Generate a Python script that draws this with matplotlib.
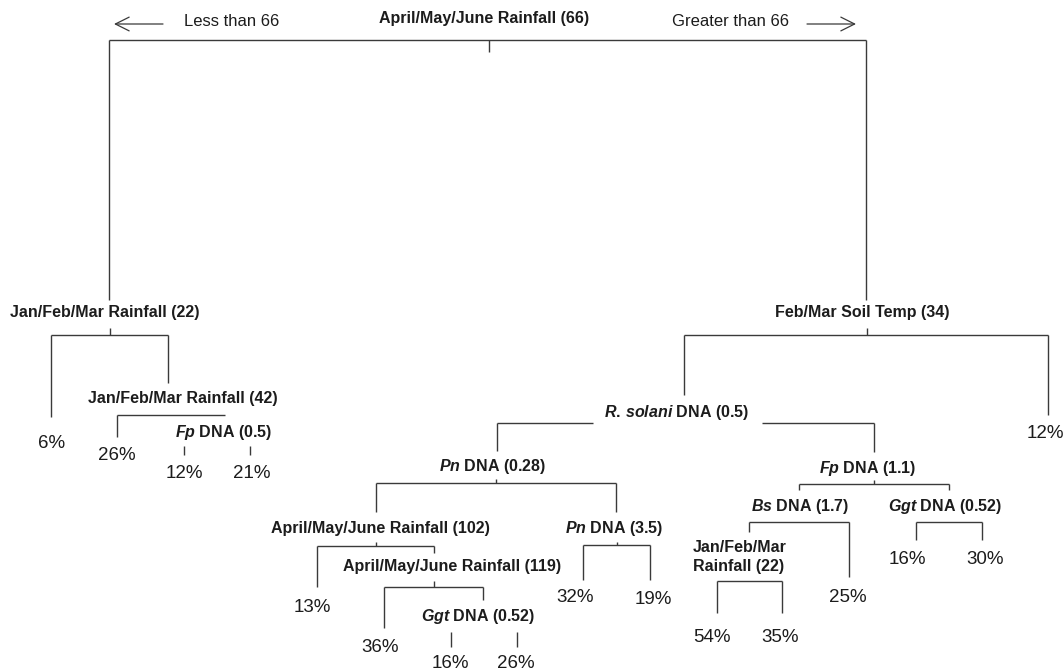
import matplotlib.pyplot as plt

plt.rcParams["font.family"] = "Liberation Sans"
plt.rcParams["mathtext.fontset"] = "custom"
plt.rcParams["mathtext.it"] = "Liberation Sans:italic:bold"
plt.rcParams["mathtext.rm"] = "Liberation Sans:bold"
plt.rcParams["mathtext.bf"] = "Liberation Sans:bold"

LINE = "#3a3a3a"
INK = "#1c1c1c"

# internal nodes of the regression tree: splitting variable and threshold
split_vars = [
    "April/May/June Rainfall", "Jan/Feb/Mar Rainfall", "Jan/Feb/Mar Rainfall",
    r"$\mathit{Fp}$ DNA", "Feb/Mar Soil Temp", r"$\mathit{R.\,solani}$ DNA",
    r"$\mathit{Pn}$ DNA", "April/May/June Rainfall", "April/May/June Rainfall",
    r"$\mathit{Ggt}$ DNA", r"$\mathit{Pn}$ DNA", r"$\mathit{Fp}$ DNA",
    r"$\mathit{Bs}$ DNA", "Jan/Feb/Mar\nRainfall", r"$\mathit{Ggt}$ DNA",
]
split_cuts = ["66", "22", "42", "0.5", "34", "0.5", "0.28", "102", "119",
              "0.52", "3.5", "1.1", "1.7", "22", "0.52"]

# terminal nodes, left to right: mean value (%)
leaf_pct = [6, 26, 12, 21, 13, 36, 16, 26, 32, 19, 54, 35, 25, 16, 30, 12]

# direction of the first split
branch_text = ["Less than 66", "Greater than 66"]

# ---- layout (pixels, origin top-left) ----
# label x, label y, horizontal alignment
split_pos = [
    (484, 18, "center"), (105, 313, "center"), (183, 399, "center"),
    (224, 432, "center"), (862, 313, "center"), (677, 412, "center"),
    (492, 467, "center"), (380, 528, "center"), (452, 567, "center"),
    (478, 617, "center"), (614, 529, "center"), (868, 468, "center"),
    (800, 507, "center"), (693, 557, "left"), (945, 507, "center"),
]
# tick (x, y0, y1) or None
split_tick = [
    (489, 40, 52), (110, 328, 335), None, None, (867, 328, 335), None,
    (496, 479, 483), (376, 542, 546), (434, 581, 587), None,
    (617, 542, 545), (874, 480, 484), None, None, None,
]
# bar y, left x, right x, left end y, right end y, bar drawn
split_bar = [
    (40, 109, 866, 300, 300, True),
    (335, 51, 168, 417, 383, True),
    (415, 117, 225, 437, 415, True),
    (446, 184, 250, 455, 455, False),
    (335, 684, 1048, 395, 415, True),
    (423, 497, 874, 451, 452, True),
    (483, 376, 616, 512, 512, True),
    (546, 317, 434, 587, 553, True),
    (587, 384, 483, 628, 600, True),
    (632, 451, 517, 647, 647, False),
    (545, 583, 650, 580, 580, True),
    (484, 799, 949, 490, 490, True),
    (522, 749, 849, 532, 577, True),
    (581, 717, 782, 613, 613, True),
    (522, 916, 982, 540, 540, True),
]
# gap left in a bar behind its label
bar_gap = {5: (593, 762)}

leaf_pos = [
    (52, 443), (117, 456), (184, 473), (252, 473), (312, 608), (380, 648),
    (450, 663), (516, 663), (575, 598), (653, 599), (712, 638), (780, 638),
    (848, 598), (907, 559), (985, 559), (1045, 433),
]

W, H = 1063, 672
fig = plt.figure(figsize=(W / 100, H / 100), dpi=100)
ax = fig.add_axes([0, 0, 1, 1])
ax.set_xlim(0, W)
ax.set_ylim(H, 0)
ax.axis("off")

seg = dict(color=LINE, lw=1.0, solid_capstyle="butt")

for i, (var, cut) in enumerate(zip(split_vars, split_cuts)):
    x, y, ha = split_pos[i]
    ax.text(x, y, f"{var} ({cut})", ha=ha, va="center", fontsize=11.5,
            fontweight="bold", color=INK, linespacing=1.25)

    if split_tick[i] is not None:
        tx, t0, t1 = split_tick[i]
        ax.plot([tx, tx], [t0, t1], **seg)

    by, lx, rx, ly, ry, drawn = split_bar[i]
    if drawn:
        if i in bar_gap:
            g0, g1 = bar_gap[i]
            ax.plot([lx, g0], [by, by], **seg)
            ax.plot([g1, rx], [by, by], **seg)
        else:
            ax.plot([lx, rx], [by, by], **seg)
    ax.plot([lx, lx], [by, ly], **seg)
    ax.plot([rx, rx], [by, ry], **seg)

for v, (x, y) in zip(leaf_pct, leaf_pos):
    ax.text(x, y, f"{v}%", ha="center", va="center", fontsize=13.5,
            color=INK)

# branch direction for the root split
ax.text(232, 21, branch_text[0], ha="center", va="center", fontsize=12,
        color=INK)
ax.text(730, 21, branch_text[1], ha="center", va="center", fontsize=12,
        color=INK)
arrow = dict(arrowstyle="->,head_length=0.9,head_width=0.45", lw=0.9,
             color=LINE, shrinkA=0, shrinkB=0, mutation_scale=11)
ax.annotate("", xy=(114, 24), xytext=(163, 24), arrowprops=arrow)
ax.annotate("", xy=(856, 24), xytext=(807, 24), arrowprops=arrow)

fig.savefig("out.png", dpi=100, facecolor="white")
